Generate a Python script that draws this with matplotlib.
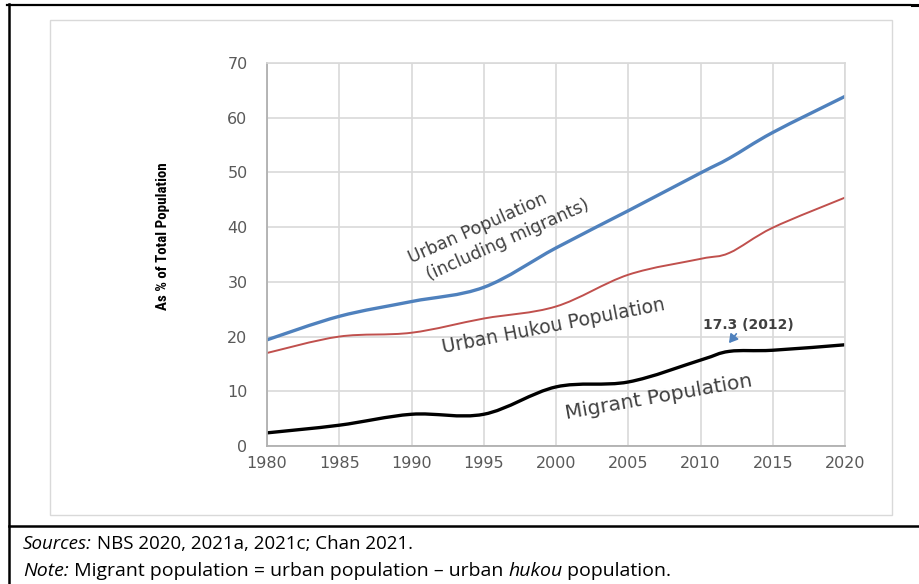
import matplotlib
matplotlib.use("Agg")
import os
import matplotlib.pyplot as plt
from matplotlib.path import Path
from matplotlib.patches import PathPatch
from matplotlib.lines import Line2D
from matplotlib.text import Annotation
from matplotlib import font_manager
from matplotlib.font_manager import FontProperties

# ---- data ----
years = [1980, 1985, 1990, 1995, 2000, 2005, 2010, 2012, 2015, 2020]
urban = [19.4, 23.7, 26.4, 29.0, 36.2, 43.0, 49.9, 52.6, 57.3, 63.9]
hukou = [17.0, 20.0, 20.7, 23.3, 25.5, 31.3, 34.2, 35.3, 39.9, 45.4]
migrant = [2.4, 3.8, 5.8, 5.8, 10.8, 11.7, 15.7, 17.3, 17.5, 18.5]
x_ticks = [1980, 1985, 1990, 1995, 2000, 2005, 2010, 2015, 2020]
y_ticks = [0, 10, 20, 30, 40, 50, 60, 70]
y_label = "As % of Total Population"
label_urban_1 = "Urban Population"
label_urban_2 = "(including migrants)"
label_hukou = "Urban Hukou Population"
label_migrant = "Migrant Population"
note_2012 = "17.3 (2012)"
sources_parts = [("Sources:", "italic"), (" NBS 2020, 2021a, 2021c; Chan 2021.", "normal")]
note_parts = [("Note:", "italic"), (" Migrant population = urban population \u2013 urban ", "normal"),
              ("hukou", "italic"), (" population.", "normal")]


def smooth_path(xs, ys):
    n = len(xs)
    verts = [(xs[0], ys[0])]
    codes = [Path.MOVETO]
    for i in range(n - 1):
        a = i - 1 if i > 0 else i
        d = i + 2 if i + 2 < n else i + 1
        c1 = (xs[i] + (xs[i + 1] - xs[a]) / 6.0, ys[i] + (ys[i + 1] - ys[a]) / 6.0)
        c2 = (xs[i + 1] - (xs[d] - xs[i]) / 6.0, ys[i + 1] - (ys[d] - ys[i]) / 6.0)
        verts += [c1, c2, (xs[i + 1], ys[i + 1])]
        codes += [Path.CURVE4] * 3
    return Path(verts, codes)


def narrow_bold_font():
    files = [f.fname for f in font_manager.fontManager.ttflist]
    prefs = ["NotoSans-ExtraCondensedBold.", "RobotoCondensed-Bold.", "LiberationSansNarrow-Bold.",
             "NotoSans-CondensedBold.", "OpenSans-CondensedBold.", "OpenSans_Condensed-Bold.",
             "DejaVuSansCondensed-Bold."]
    for p in prefs:
        for f in files:
            if os.path.basename(f).startswith(p):
                return FontProperties(fname=f)
    return FontProperties(family="DejaVu Sans", weight="bold", stretch="condensed")


fig = plt.figure(figsize=(9.2, 5.84), dpi=100)
W, H = 920.0, 584.0


def fline(x0, y0, x1, y1, **kw):
    fig.add_artist(Line2D([x0 / W, x1 / W], [1 - y0 / H, 1 - y1 / H], transform=fig.transFigure, **kw))


fline(7, 5, 910, 5, color="black", lw=1.6)
fline(912, 5, 919, 5, color="black", lw=2.2)
fline(9, 4, 9, 584, color="black", lw=1.8)
fline(9, 526, 920, 526, color="black", lw=1.8)
fig.add_artist(plt.Rectangle((50 / W, 1 - 515 / H), (892 - 50) / W, (515 - 20) / H,
                             transform=fig.transFigure, fill=False, ec="#d9d9d9", lw=1.0))

ax = fig.add_axes([267 / W, 1 - 446 / H, (845 - 267) / W, (446 - 63) / H])
ax.set_xlim(1980, 2020)
ax.set_ylim(0, 70)
ax.set_xticks(x_ticks)
ax.set_yticks(y_ticks)
ax.grid(True, color="#d9d9d9", lw=1.2)
ax.set_axisbelow(True)
for s in ["top", "right"]:
    ax.spines[s].set_color("#d9d9d9")
    ax.spines[s].set_linewidth(1.2)
for s in ["left", "bottom"]:
    ax.spines[s].set_color("#b0b0b0")
    ax.spines[s].set_linewidth(1.3)
ax.tick_params(length=0, colors="#595959", labelsize=11.5)
ax.tick_params(axis="y", pad=14)
ax.tick_params(axis="x", pad=7)

for ys, col, lw in [(urban, "#4F81BD", 2.4), (hukou, "#C0504D", 1.4), (migrant, "black", 2.4)]:
    ax.add_patch(PathPatch(smooth_path(years, ys), fill=False, ec=col, lw=lw,
                           capstyle="round", joinstyle="round"))

lab_kw = dict(ha="center", va="center", color="#404040", rotation_mode="anchor")
ax.text(1994.6, 39.8, label_urban_1, rotation=24, fontsize=12.5, **lab_kw)
ax.text(1996.7, 37.7, label_urban_2, rotation=24, fontsize=12.5, **lab_kw)
ax.text(1999.8, 22.0, label_hukou, rotation=11, fontsize=13.5, **lab_kw)
ax.text(2007.1, 8.9, label_migrant, rotation=10, fontsize=14.5, **lab_kw)
ax.text(2013.3, 22.1, note_2012, ha="center", va="center", fontsize=10, fontweight="bold", color="#404040")
ax.annotate("", xy=(2011.85, 18.4), xytext=(2012.6, 20.9),
            arrowprops=dict(arrowstyle="-|>,head_length=0.5,head_width=0.3", color="#4F81BD", lw=1.2))

fp = narrow_bold_font()
fp.set_size(12)
ylab = fig.text(163 / W, 1 - 236 / H, y_label, rotation=90, ha="center", va="center",
                fontproperties=fp, color="black")
# fit the label length to ~148 px
renderer = fig.canvas.get_renderer()
h = ylab.get_window_extent(renderer).height
fp.set_size(min(14.0, 12 * 148.0 / h))
ylab.set_fontproperties(fp)


def chain(x, y, parts, size, fam):
    prev = fig.text(x / W, 1 - y / H, parts[0][0], fontsize=size, style=parts[0][1], family=fam,
                    ha="left", va="bottom", color="black")
    for txt, style in parts[1:]:
        prev = fig.add_artist(Annotation(txt, xy=(1, 0), xycoords=prev, fontsize=size, style=style,
                                         family=fam, ha="left", va="bottom", color="black"))


chain(23, 553, sources_parts, 13.5, "Open Sans")
chain(23, 580, note_parts, 14, "Open Sans")

fig.savefig("out.png", dpi=100)
